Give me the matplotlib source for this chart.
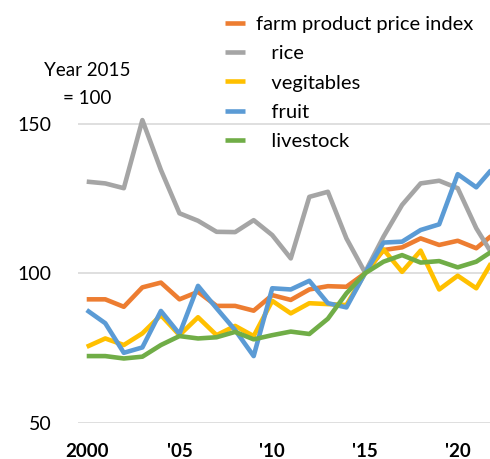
import matplotlib
matplotlib.use("Agg")
import matplotlib.pyplot as plt

years = list(range(2000, 2023))
farm = [91.3, 91.3, 88.8, 95.3, 96.9, 91.3, 93.8, 89.1, 89.1, 87.5, 92.7,
        91.1, 94.6, 95.7, 95.5, 100, 107.8, 108.7, 111.7, 109.5, 110.9, 108.4, 113.5]
rice = [130.7, 130.1, 128.5, 151.3, 134.6, 120.1, 117.6, 113.9, 113.8, 117.8, 112.8,
        105.0, 125.6, 127.3, 111.7, 100.3, 112.3, 122.9, 130.1, 131.0, 128.5, 115.1, 105.0]
vegetables = [75.4, 78.2, 76.0, 79.9, 86.0, 79.3, 85.3, 79.3, 82.4, 79.0, 90.8,
              86.6, 90.0, 89.7, 89.4, 100, 108.0, 100.5, 107.6, 94.6, 99.2, 95.0, 105.5]
fruit = [87.7, 83.3, 73.4, 75.2, 87.4, 79.7, 95.8, 88.3, 81.0, 72.3, 95.0,
         94.6, 97.5, 90.0, 88.6, 100, 110.3, 110.6, 114.5, 116.4, 133.2, 128.8, 136.0]
livestock = [72.3, 72.3, 71.5, 72.1, 76.0, 79.0, 78.2, 78.6, 80.4, 77.9, 79.3,
             80.5, 79.7, 84.8, 93.3, 100, 103.9, 106.1, 103.6, 104.1, 102.0, 103.9, 108.0]

labels = ["farm product price index", "   rice", "   vegitables", "   fruit", "   livestock"]
colors = ["#ED7D31", "#A5A5A5", "#FFC000", "#5B9BD5", "#70AD47"]
series = [farm, rice, vegetables, fruit, livestock]

xtick_pos = [2000, 2005, 2010, 2015, 2020]
xtick_labels = ["2000", "'05", "'10", "'15", "'20"]
ytick_pos = [50, 100, 150]

plt.rcParams['font.family'] = ['Lato', 'DejaVu Sans']

W, H = 490, 459
fig = plt.figure(figsize=(W / 100, H / 100), dpi=100)
left_px, right_px = 78, 490
bottom_px, top_px = 422.7, 94.1
ax = fig.add_axes([left_px / W, 1 - bottom_px / H, (right_px - left_px) / W, (bottom_px - top_px) / H])

for s, c, lab in zip(series, colors, labels):
    ax.plot(years, s, color=c, lw=3.3, label=lab, solid_joinstyle='round', solid_capstyle='butt')

ax.set_xlim(1999.53, 2021.74)
ax.set_ylim(50, 160)
ax.set_yticks(ytick_pos)
ax.set_yticklabels([str(v) for v in ytick_pos], fontsize=14)
ax.set_xticks(xtick_pos)
ax.set_xticklabels(xtick_labels, fontsize=13.5, fontweight='bold')
ax.tick_params(axis='y', length=0, pad=19)
ax.tick_params(axis='x', length=0, pad=14.5)
ax.grid(axis='y', color='#D9D9D9', lw=1.2)
ax.set_axisbelow(True)
for sp in ax.spines.values():
    sp.set_visible(False)

fig.text(87 / W, 1 - 71 / H, "Year 2015", ha='center', va='center', fontsize=13.5)
fig.text(87 / W, 1 - 98 / H, "= 100", ha='center', va='center', fontsize=13.5)

leg = fig.legend(loc='upper left', bbox_to_anchor=(217 / W, 1 - 8 / H), frameon=False,
                 fontsize=14.5, handlelength=1.0, handletextpad=0.55, labelspacing=0.6,
                 borderaxespad=0)

fig.savefig("out.png", dpi=100)
